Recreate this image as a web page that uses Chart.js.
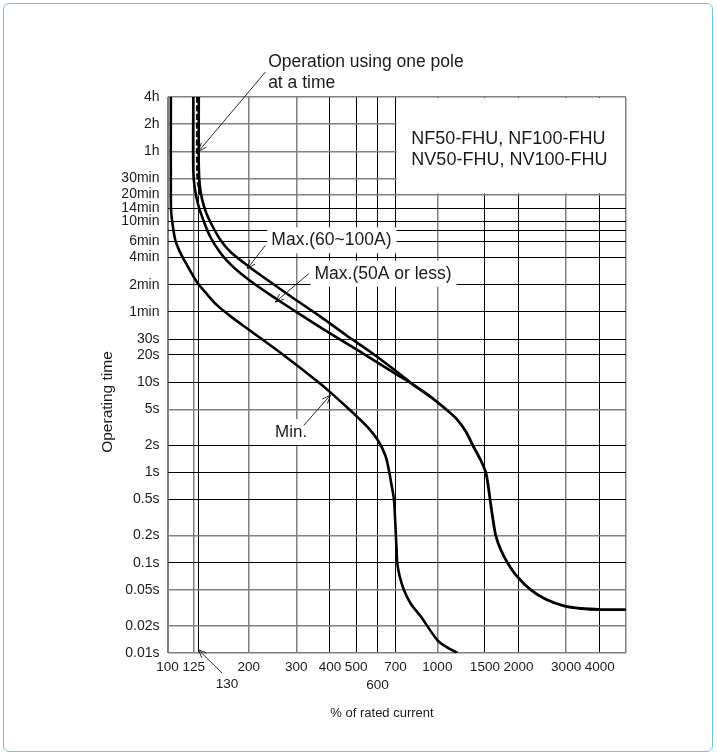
<!DOCTYPE html>
<html><head><meta charset="utf-8">
<script src="https://cdn.jsdelivr.net/npm/chart.js@4.4.0/dist/chart.umd.min.js"></script>
<style>
html,body{margin:0;padding:0;background:#fff;}
#wrap{position:relative;width:717px;height:756px;}
#frame{position:absolute;left:3px;top:3px;width:710px;height:749px;border:1px solid #6cc3ea;border-radius:6px;box-sizing:border-box;pointer-events:none;}
canvas{position:absolute;left:0;top:0;}
</style></head><body>
<div id="wrap"><canvas id="c" width="717" height="756"></canvas><div id="frame"></div></div>
<script>
const FONT = "'Liberation Sans', Arial, Helvetica, sans-serif";

// ---- axis ticks ----
const xTicks = [100, 125, 130, 200, 300, 400, 500, 600, 700, 1000, 1500, 2000, 3000, 4000, 5000];
const xTickLabels = ['100', '125', '', '200', '300', '400', '500', ['', '600'], '700', '1000', '1500', '2000', '3000', '4000', ''];
const xGrayTicks = [100, 125, 200, 300, 1000, 3000, 5000];
const yTicks = [0.01, 0.02, 0.05, 0.1, 0.2, 0.5, 1, 2, 5, 10, 20, 30, 60, 120, 240, 360, 480, 600, 840, 1200, 1800, 3600, 7200, 14400];
const yTickLabels = ['0.01s', '0.02s', '0.05s', '0.1s', '0.2s', '0.5s', '1s', '2s', '5s', '10s', '20s', '30s', '1min', '2min', '4min', '6min', '', '10min', '14min', '20min', '30min', '1h', '2h', '4h'];
const yGrayTicks = [0.01, 0.02, 0.05, 0.2, 5, 1200, 1800, 3600, 7200, 14400];

// ---- curves (x: % of rated current, y: operating time in seconds) ----
const minX = [102.9, 102.9, 103.4, 106.8, 111.5, 118, 128.5, 138, 152.5, 173.9, 202.8, 268.9, 362.6, 401.7, 456.8, 506, 556, 605.6, 643, 662.4, 676.7, 690, 697, 702, 706, 710, 724.6, 752, 796, 867, 1000, 1083, 1187];
const minY = [14400, 1045, 712, 378, 272, 199, 128.6, 99.2, 71.3, 51.8, 37.1, 20, 10, 7.7, 5.44, 4.1, 3.09, 2.2, 1.51, 1.03, 0.72, 0.51, 0.309, 0.2, 0.143, 0.1, 0.0711, 0.05, 0.0354, 0.0255, 0.0139, 0.0116, 0.01];

const max50X = [124.6, 124.6, 126.2, 130, 135.6, 144, 156.9, 173.9, 202.8, 251, 310.9, 401.8, 532.6, 710.5, 816.6, 944.4];
const max50Y = [14400, 2194, 1408, 916, 630, 408, 271.8, 192.6, 131.8, 84.9, 56, 34.4, 20.6, 12.06, 9.3, 6.86];

const max100X = [130.6, 130.6, 131.7, 134.5, 139.2, 146.5, 156.9, 170.9, 199.3, 240.5, 292.8, 368.8, 456.7, 565.3, 700.2, 816.6];
const max100Y = [14400, 2494, 1512, 1044, 748, 540, 378, 278, 192.6, 128.5, 84.9, 53.2, 33.5, 21.6, 13.4, 9.3];

const tailX = [816.6, 944.4, 1073.5, 1179.7, 1273.6, 1352, 1442, 1511, 1544, 1568, 1605, 1646, 1718, 1819, 1970, 2220, 2523, 2943, 3404, 4037, 5000];
const tailY = [9.3, 6.86, 5.04, 3.9, 2.86, 2.0, 1.40, 1.0, 0.70, 0.5, 0.309, 0.2, 0.139, 0.1, 0.0711, 0.05, 0.0393, 0.0332, 0.0311, 0.0303, 0.0303];

const poleX = [128.6, 128.6, 129.5, 132.3];
const poleY = [14400, 2310, 1625, 1191];

// ---- annotations (positions in data units) ----
const noteTexts = [
  {t: 'Operation using one pole', x: 236, y: 35000, align: 'left', size: 17.5},
  {t: 'at a time', x: 236, y: 20250, align: 'left', size: 17.5},
  {t: 'Max.(60~100A)', x: 405, y: 372, align: 'center', size: 17.5, box: true},
  {t: 'Max.(50A or less)', x: 629, y: 159, align: 'center', size: 17.5, box: true},
  {t: 'Min.', x: 287, y: 2.8, align: 'center', size: 17, box: true},
  {t: 'NF50-FHU, NF100-FHU', x: 801, y: 4945, align: 'left', size: 18},
  {t: 'NV50-FHU, NV100-FHU', x: 801, y: 2897, align: 'left', size: 18},
  {t: '130', x: 166, y: 0.0045, align: 'center', size: 13.5}
];
const arrows = [
  {from: [230.5, 27180], to: [130.3, 3600]},
  {from: [230.5, 327], to: [197.6, 181]},
  {from: [333.7, 159], to: [251, 77]},
  {from: [319.8, 3.32], to: [401.8, 7.2]},
  {from: [159.2, 0.006], to: [130, 0.0109]}
];
const modelBox = {x1: 700, x2: 5000, y1: 1200, y2: 14400};

function pts(xs, ys) { return xs.map((x, i) => ({x: x, y: ys[i]})); }

const lineStyle = {showLine: true, pointRadius: 0, borderColor: '#000', backgroundColor: '#000', fill: false, tension: 0.3};

const overlay = {
  id: 'overlay',
  beforeDatasetsDraw(chart) {
    const c = chart.ctx, xs = chart.scales.x, ys = chart.scales.y;
    c.save();
    c.fillStyle = '#fff';
    const bx1 = xs.getPixelForValue(modelBox.x1) + 1, bx2 = xs.getPixelForValue(modelBox.x2) - 1;
    const by1 = ys.getPixelForValue(modelBox.y2) + 1, by2 = ys.getPixelForValue(modelBox.y1) - 1;
    c.fillRect(bx1, by1, bx2 - bx1, by2 - by1);
    noteTexts.forEach(n => {
      if (!n.box) return;
      c.font = n.size + 'px ' + FONT;
      const w = c.measureText(n.t).width;
      const px = xs.getPixelForValue(n.x), py = ys.getPixelForValue(n.y);
      c.fillRect(px - w / 2 - 4, py - 13, w + 9, 26);
    });
    c.restore();
  },
  afterDatasetsDraw(chart) {
    const c = chart.ctx, xs = chart.scales.x, ys = chart.scales.y;
    c.save();
    c.fillStyle = '#1a1a1a';
    c.textBaseline = 'middle';
    noteTexts.forEach(n => {
      c.font = n.size + 'px ' + FONT;
      c.textAlign = n.align;
      c.fillText(n.t, xs.getPixelForValue(n.x), ys.getPixelForValue(n.y));
    });
    c.strokeStyle = '#111';
    c.lineWidth = 0.9;
    arrows.forEach(a => {
      const x1 = xs.getPixelForValue(a.from[0]), y1 = ys.getPixelForValue(a.from[1]);
      const x2 = xs.getPixelForValue(a.to[0]), y2 = ys.getPixelForValue(a.to[1]);
      c.beginPath(); c.moveTo(x1, y1); c.lineTo(x2, y2); c.stroke();
      const ang = Math.atan2(y1 - y2, x1 - x2), L = 9, sp = 0.38;
      c.beginPath();
      c.moveTo(x2 + L * Math.cos(ang + sp), y2 + L * Math.sin(ang + sp));
      c.lineTo(x2, y2);
      c.lineTo(x2 + L * Math.cos(ang - sp), y2 + L * Math.sin(ang - sp));
      c.stroke();
    });
    c.fillStyle = '#1a1a1a';
    c.textAlign = 'center';
    c.font = '13px ' + FONT;
    c.fillText('% of rated current', 382, 713);
    c.translate(108, 402);
    c.rotate(-Math.PI / 2);
    c.font = '15.5px ' + FONT;
    c.fillText('Operating time', 0, 0);
    c.restore();
  }
};

new Chart(document.getElementById('c'), {
  type: 'scatter',
  data: {
    datasets: [
      Object.assign({label: 'Min.', data: pts(minX, minY), borderWidth: 2.6}, lineStyle),
      Object.assign({label: 'Max.(50A or less)', data: pts(max50X, max50Y), borderWidth: 2.6}, lineStyle),
      Object.assign({label: 'Max.(60~100A)', data: pts(max100X, max100Y), borderWidth: 2.6}, lineStyle),
      Object.assign({label: 'Max tail', data: pts(tailX, tailY), borderWidth: 2.8}, lineStyle),
      Object.assign({label: 'Operation using one pole at a time', data: pts(poleX, poleY), borderWidth: 2, borderDash: [6, 2.5]}, lineStyle)
    ]
  },
  options: {
    responsive: false, animation: false, devicePixelRatio: 1,
    layout: {padding: {left: 0, right: 91, top: 97, bottom: 0}},
    plugins: {legend: {display: false}, tooltip: {enabled: false}},
    scales: {
      x: {
        type: 'logarithmic', min: 100, max: 5000,
        afterBuildTicks: s => { s.ticks = xTicks.map(v => ({value: v})); },
        afterFit: s => { s.height = 103; },
        ticks: {autoSkip: false, maxRotation: 0, minRotation: 0, padding: 6, color: '#1a1a1a',
          font: {family: FONT, size: 13.5, lineHeight: 1.3},
          callback: (v, i) => xTickLabels[i]},
        grid: {drawTicks: false,
          color: ctx => (ctx.tick && xGrayTicks.includes(ctx.tick.value)) ? '#808080' : '#000',
          lineWidth: ctx => (ctx.tick && ctx.tick.value === 100) ? 2 : (ctx.tick && xGrayTicks.includes(ctx.tick.value) ? 1.5 : 1)},
        border: {display: false}
      },
      y: {
        type: 'logarithmic', min: 0.01, max: 14400,
        afterBuildTicks: s => { s.ticks = yTicks.map(v => ({value: v})); },
        afterFit: s => { s.width = 167.5; },
        ticks: {autoSkip: false, padding: 8, color: '#1a1a1a',
          font: {family: FONT, size: 14},
          callback: (v, i) => yTickLabels[i]},
        grid: {drawTicks: false,
          color: ctx => (ctx.tick && yGrayTicks.includes(ctx.tick.value)) ? '#808080' : '#000',
          lineWidth: ctx => (ctx.tick && yGrayTicks.includes(ctx.tick.value)) ? 1.5 : 1},
        border: {display: false}
      }
    }
  },
  plugins: [overlay]
});
</script>
</body></html>
